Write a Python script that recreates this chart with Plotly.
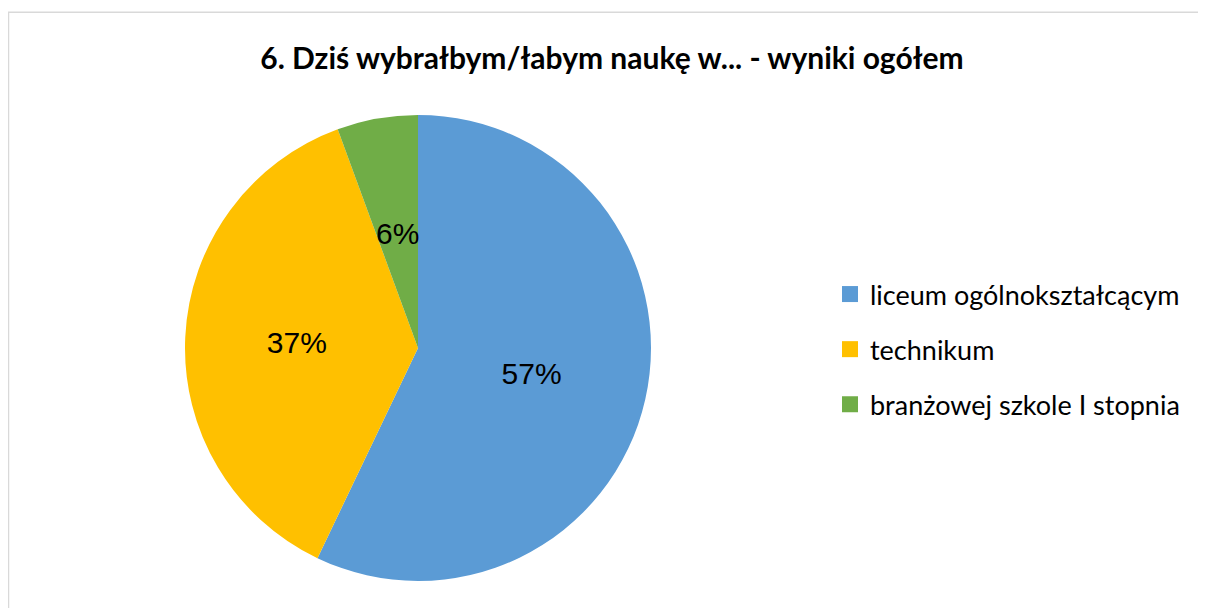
import math
import plotly.graph_objects as go

labels = ["liceum ogólnokształcącym", "technikum", "branżowej szkole I stopnia"]
values = [57.1, 37.3, 5.6]
colors = ["#5B9BD5", "#FFC000", "#70AD47"]
title = "6. Dziś wybrałbym/łabym naukę w... - wyniki ogółem"

# page body has an 8px margin, so the figure is slightly smaller than the window
W, H = 1198, 600
cx, cy, R = 410, 340, 233

total = sum(values)
pct_text = [f"{round(v / total * 100)}%" for v in values]
# small slices: label placed at half radius on the bisector (Excel style)
small = [v / total < 0.1 for v in values]

fig = go.Figure()
fig.add_trace(go.Pie(
    labels=labels, values=values, sort=False, direction="clockwise", rotation=0,
    marker=dict(colors=colors, line=dict(width=0)),
    text=[("" if s else t) for s, t in zip(small, pct_text)],
    textinfo="text", textposition="inside", insidetextorientation="horizontal",
    textfont=dict(family="Liberation Sans, Arial", size=30, color="#000000"),
    showlegend=False, hoverinfo="label+percent",
    domain=dict(x=[(cx - R) / W, (cx + R) / W], y=[1 - (cy + R) / H, 1 - (cy - R) / H]),
))

annotations = []
cum = 0.0
for v, s, t in zip(values, small, pct_text):
    mid = (cum + v / 2) / total * 2 * math.pi
    cum += v
    if s:
        annotations.append(dict(
            x=(cx + 0.5 * R * math.sin(mid)) / W, y=1 - (cy - 0.5 * R * math.cos(mid)) / H,
            xref="paper", yref="paper", text=t, showarrow=False,
            font=dict(family="Liberation Sans, Arial", size=30, color="#000000"),
            xanchor="center", yanchor="middle"))

for lab, col in zip(labels, colors):
    fig.add_trace(go.Scatter(
        x=[None], y=[None], mode="markers", name=lab, legendgroup=lab,
        marker=dict(symbol="square", size=16, color=col),
        showlegend=True, hoverinfo="skip",
    ))

fig.update_layout(
    width=W, height=H,
    margin=dict(l=0, r=0, t=0, b=0),
    paper_bgcolor="white", plot_bgcolor="white",
    title=dict(text="<b>" + title + "</b>", x=604 / W, xanchor="center", y=1 - 50 / H, yanchor="middle",
               font=dict(family="Lato", size=30, color="#000000")),
    xaxis=dict(visible=False), yaxis=dict(visible=False),
    legend=dict(x=822 / W, xanchor="left", y=1 - 262 / H, yanchor="top",
                font=dict(family="Lato", size=27, color="#000000"),
                tracegroupgap=17, itemsizing="trace", bgcolor="rgba(0,0,0,0)"),
    annotations=annotations,
    shapes=[dict(type="rect", xref="paper", yref="paper", x0=0.5 / W, x1=1.2, y0=-0.2, y1=1 - 4.25 / H,
                 line=dict(color="#D9D9D9", width=1.5), fillcolor="rgba(0,0,0,0)", layer="below")],
)

fig.write_html("out.html")
